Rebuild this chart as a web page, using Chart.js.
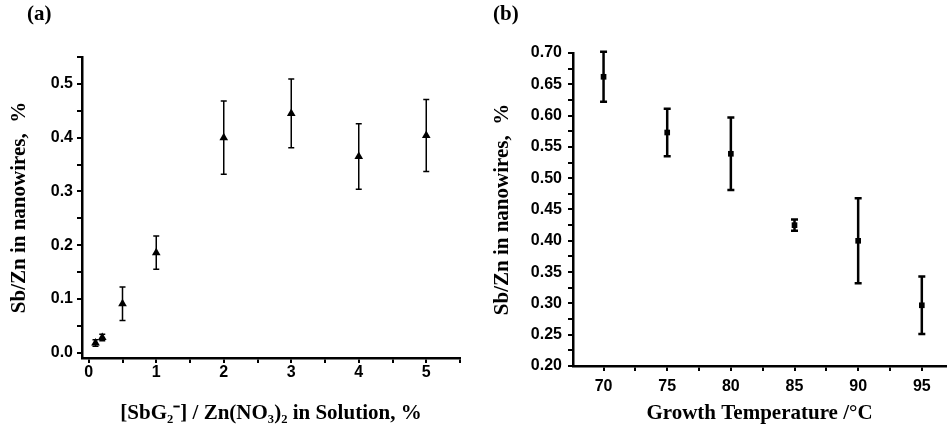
<!DOCTYPE html>
<html>
<head>
<meta charset="utf-8">
<script src="https://cdn.jsdelivr.net/npm/chart.js@4.4.0/dist/chart.umd.min.js"></script>
<style>
  body { margin: 0; background: #fff; width: 950px; height: 428px; position: relative; overflow: hidden; }
  .panel { position: absolute; top: 0; width: 475px; height: 428px; }
  .tag { position: absolute; top: 1px; font: bold 21px 'Liberation Serif', serif; color: #000; }
</style>
</head>
<body>
<div class="panel" style="left:0"><canvas id="chartA" width="475" height="428"></canvas></div>
<div class="panel" style="left:475px"><canvas id="chartB" width="475" height="428"></canvas></div>
<div class="tag" style="left:27px">(a)</div>
<div class="tag" style="left:493px">(b)</div>
<script>
// panel (a): Sb/Zn vs SbG2- concentration
const conc = [0.1, 0.2, 0.5, 1, 2, 3, 4, 5];
const ratioA = [0.018, 0.028, 0.091, 0.186, 0.400, 0.445, 0.365, 0.404];
const errA = [0.006, 0.006, 0.031, 0.031, 0.068, 0.064, 0.061, 0.067];
const ticksAX = [0, 0.5, 1, 1.5, 2, 2.5, 3, 3.5, 4, 4.5, 5, 5.5];
const ticksAY = [0, 0.05, 0.1, 0.15, 0.2, 0.25, 0.3, 0.35, 0.4, 0.45, 0.5, 0.55];

// panel (b): Sb/Zn vs growth temperature
const temp = [70, 75, 80, 85, 90, 95];
const ratioB = [0.662, 0.573, 0.539, 0.425, 0.400, 0.297];
const errB = [0.040, 0.038, 0.058, 0.009, 0.068, 0.046];
const ticksBX = [70, 72.5, 75, 77.5, 80, 82.5, 85, 87.5, 90, 92.5, 95];
const ticksBY = [0.2, 0.225, 0.25, 0.275, 0.3, 0.325, 0.35, 0.375, 0.4, 0.425, 0.45,
  0.475, 0.5, 0.525, 0.55, 0.575, 0.6, 0.625, 0.65, 0.675, 0.7];

const tickFont = { family: "'Liberation Sans', Arial, sans-serif", size: 16, weight: 'bold' };
const titleFont = { family: "'Liberation Serif', 'Times New Roman', serif", size: 21, weight: 'bold' };

const errorBars = {
  id: 'errorBars',
  beforeDatasetsDraw(chart, args, opts) {
    const { ctx, scales: { x, y } } = chart;
    const pts = chart.data.datasets[0].data;
    ctx.save();
    ctx.strokeStyle = '#000';
    ctx.lineWidth = opts.width;
    pts.forEach((p, i) => {
      const px = x.getPixelForValue(p.x);
      const top = y.getPixelForValue(p.y + opts.errors[i]);
      const bot = y.getPixelForValue(p.y - opts.errors[i]);
      ctx.beginPath();
      ctx.moveTo(px, top); ctx.lineTo(px, bot);
      ctx.moveTo(px - opts.cap, top); ctx.lineTo(px + opts.cap, top);
      ctx.moveTo(px - opts.cap, bot); ctx.lineTo(px + opts.cap, bot);
      ctx.stroke();
    });
    ctx.restore();
  }
};

function axis(cfg) {
  return {
    type: 'linear',
    min: cfg.min,
    max: cfg.max,
    afterBuildTicks: s => { s.ticks = cfg.ticks.map(v => ({ value: v })); },
    afterFit: s => { if (cfg.width) s.width = cfg.width; if (cfg.height) s.height = cfg.height; },
    grid: { drawOnChartArea: false, drawTicks: true, tickLength: 5, color: '#000', lineWidth: 2 },
    border: { display: true, color: '#000', width: 2.5 },
    ticks: {
      autoSkip: false, maxRotation: 0, color: '#000', font: tickFont, padding: cfg.pad,
      callback: cfg.label
    },
    title: { display: true, text: cfg.title, color: '#000', font: titleFont, padding: cfg.titlePad }
  };
}

new Chart(document.getElementById('chartA'), {
  type: 'scatter',
  data: {
    datasets: [{
      data: conc.map((c, i) => ({ x: c, y: ratioA[i] })),
      pointStyle: 'triangle', pointRadius: 5, backgroundColor: '#000', borderColor: '#000', borderWidth: 0
    }]
  },
  options: {
    responsive: false,
    animation: false,
    layout: { padding: { top: 57, right: 15, bottom: 0, left: 0 } },
    plugins: {
      legend: { display: false },
      tooltip: { enabled: false },
      errorBars: { errors: errA, width: 1.5, cap: 3 }
    },
    scales: {
      x: axis({
        min: -0.1, max: 5.5, ticks: ticksAX, height: 70, pad: 0,
        label: v => (Number.isInteger(v) && v <= 5 ? String(v) : ''),
        title: '[SbG\u2082\u207B] / Zn(NO\u2083)\u2082 in Solution, %', titlePad: { top: 4, bottom: 2 }
      }),
      y: axis({
        min: -0.01, max: 0.55, ticks: ticksAY, width: 82, pad: 4,
        label: v => (Math.round(v * 100) % 10 === 0 ? v.toFixed(1) : ''),
        title: 'Sb/Zn in nanowires,  %', titlePad: { top: 7, bottom: 4 }
      })
    }
  },
  plugins: [errorBars]
});

new Chart(document.getElementById('chartB'), {
  type: 'scatter',
  data: {
    datasets: [{
      data: temp.map((t, i) => ({ x: t, y: ratioB[i] })),
      pointStyle: 'rect', pointRadius: 4, backgroundColor: '#000', borderColor: '#000', borderWidth: 0
    }]
  },
  options: {
    responsive: false,
    animation: false,
    layout: { padding: { top: 53, right: 0, bottom: 0, left: 0 } },
    plugins: {
      legend: { display: false },
      tooltip: { enabled: false },
      errorBars: { errors: errB, width: 2.5, cap: 3.5 }
    },
    scales: {
      x: axis({
        min: 67.6, max: 96.9, ticks: ticksBX, height: 62, pad: 6,
        label: v => (v % 5 === 0 ? String(v) : ''),
        title: 'Growth Temperature /\u00B0C', titlePad: { top: 4, bottom: 2 }
      }),
      y: axis({
        min: 0.2, max: 0.7, ticks: ticksBY, width: 98, pad: 6,
        label: v => (Math.round(v * 1000) % 50 === 0 ? v.toFixed(2) : ''),
        title: 'Sb/Zn in nanowires,  %', titlePad: { top: 15, bottom: 4 }
      })
    }
  },
  plugins: [errorBars]
});
</script>
</body>
</html>
